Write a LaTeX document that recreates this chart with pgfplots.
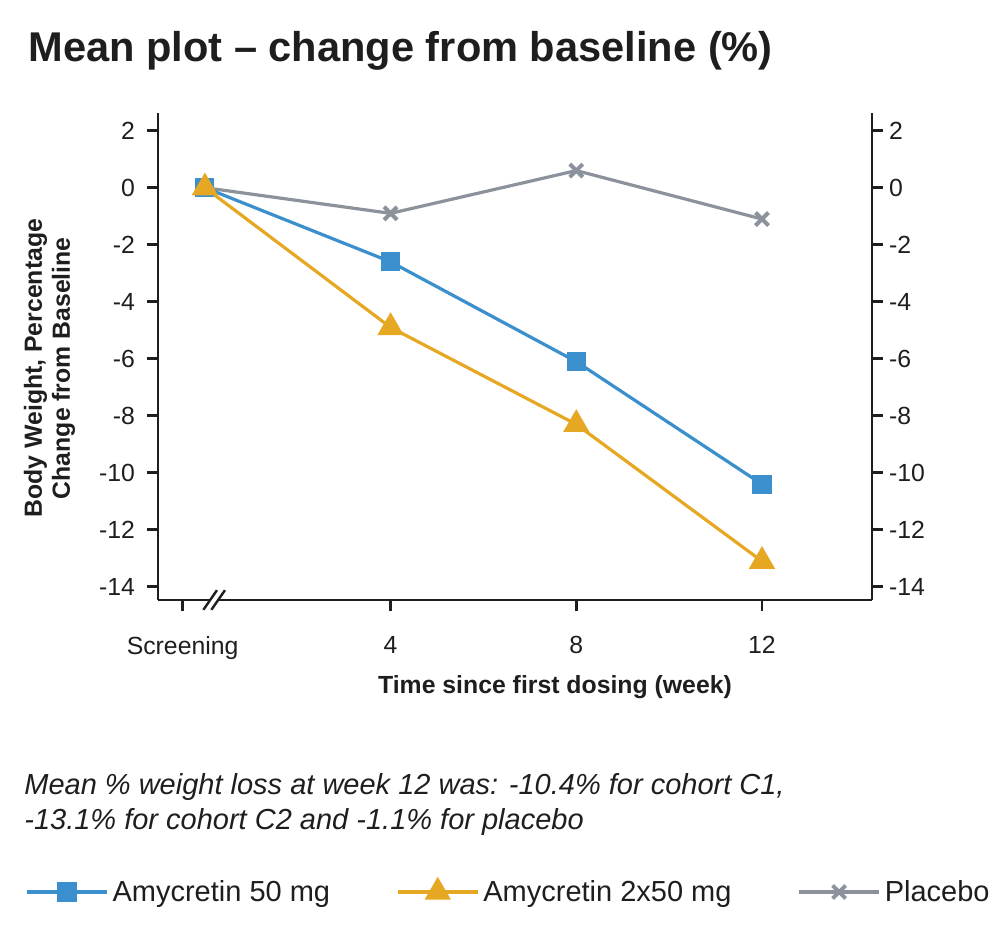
\documentclass[border=0pt]{standalone}
\usepackage{pgfplots}
\pgfplotsset{compat=1.18}
\usepackage{fontspec}
\setmainfont{Liberation Sans}
\definecolor{cblue}{RGB}{58,143,204}
\definecolor{cyel}{RGB}{230,168,35}
\definecolor{cgray}{RGB}{140,146,156}
\definecolor{txt}{RGB}{30,30,30}

\pgfplotsset{
 common/.style={
  at={(79pt,173pt)}, anchor=south west,
  width=357pt, height=243.5pt, scale only axis,
  xmin=-1.01, xmax=14.37, ymin=-14.46, ymax=2.62,
  ytick={-14,-12,...,2},
  tick align=outside, major tick length=5.5pt,
  tick style={line width=1.4pt, color=txt},
  axis line style={line width=1.4pt, color=txt},
  tick label style={font=\fontsize{12.4}{14}\selectfont, text=txt},
  /pgf/number format/assume math mode=true,
  clip=false,
 },
 legend image code/.code={\draw[mark repeat=2,mark phase=2] plot coordinates {(0pt,0pt)(20pt,0pt)(40pt,0pt)};},
}

\begin{document}
\begin{tikzpicture}
\path[use as bounding box] (0,0) rectangle (502pt,473pt);

\begin{axis}[common,
  axis x line*=bottom, axis y line*=left,
  xtick={-0.48,4,8,12}, xticklabels={Screening,4,8,12},
  xticklabel style={yshift=-9pt},
  yticklabel style={xshift=-2.5pt},
  xlabel={Time since first dosing (week)},
  xlabel style={font=\fontsize{12.4}{14}\bfseries\selectfont, text=txt, at={(axis description cs:0.556,-0.191)}, anchor=base},
  ylabel={Body Weight, Percentage\\Change from Baseline},
  ylabel style={font=\fontsize{12.4}{14}\bfseries\selectfont, text=txt, align=center, at={(axis description cs:-0.152,0.476)}, anchor=center},
  legend columns=3,
  legend style={draw=none, fill=none, inner sep=0pt, font=\fontsize{14.5}{17}\selectfont, text=txt,
    at={(axis description cs:-0.1863,-0.5996)}, anchor=west,
    /tikz/every even column/.append style={column sep=31pt}},
]
\addplot[cgray, line width=1.6pt, mark=x, mark size=4.6pt, mark options={line width=2pt}, forget plot]
  coordinates {(0,0) (4,-0.9) (8,0.6) (12,-1.1)};
\addplot[cblue, line width=1.6pt, mark=square*, mark size=4pt, mark options={fill=cblue, draw=cblue}]
  coordinates {(0,0) (4,-2.6) (8,-6.1) (12,-10.4)};
\addplot[cyel, line width=1.6pt, mark=triangle*, mark size=6pt, mark options={fill=cyel, draw=cyel}]
  coordinates {(0,0) (4,-4.9) (8,-8.3) (12,-13.1)};
\addlegendimage{cgray, line width=1.6pt, mark=x, mark size=4.6pt, mark options={line width=2pt}}
\legend{Amycretin 50 mg, Amycretin 2x50 mg, Placebo}
\coordinate (brk) at (axis cs:0.2,-14.46);
\end{axis}

\begin{axis}[common,
  axis x line=none, axis y line*=right,
  yticklabel pos=right,
  yticklabel style={xshift=-0.5pt},
]
\addplot[draw=none] coordinates {(0,0)};
\end{axis}

% axis break
\fill[white] ([xshift=-2.2pt,yshift=-1.2pt]brk) rectangle ([xshift=2.2pt,yshift=1.2pt]brk);
\draw[txt, line width=1.2pt] ([xshift=-5.4pt,yshift=-4.9pt]brk) -- ([xshift=1.4pt,yshift=4.9pt]brk);
\draw[txt, line width=1.2pt] ([xshift=-1.4pt,yshift=-4.9pt]brk) -- ([xshift=5.4pt,yshift=4.9pt]brk);

\node[anchor=base west, inner sep=0pt, font=\fontsize{20.8}{25}\selectfont\bfseries, text=txt] at (14pt,442pt) {Mean plot – change from baseline (\%)};
\node[anchor=base west, inner sep=0pt, font=\fontsize{14.5}{17}\selectfont\itshape, text=txt] at (12pt,75.5pt) {Mean \% weight loss at week 12 was: -10.4\% for cohort C1,};
\node[anchor=base west, inner sep=0pt, font=\fontsize{14.5}{17}\selectfont\itshape, text=txt] at (12pt,58.5pt) {-13.1\% for cohort C2 and -1.1\% for placebo};
\end{tikzpicture}
\end{document}
